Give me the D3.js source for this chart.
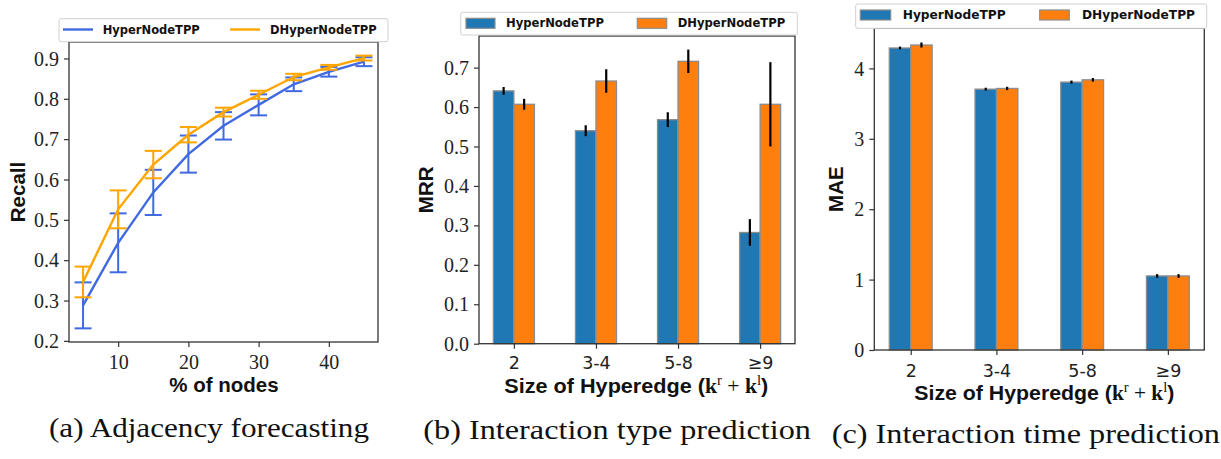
<!DOCTYPE html>
<html>
<head>
<meta charset="utf-8">
<script src="https://cdn.jsdelivr.net/npm/d3@7"></script>
<style>
  body { margin: 0; background: #fff; }
  svg { display: block; }
</style>
</head>
<body>
<div id="chart"></div>
<script>
// series names
let seriesNames = ['HyperNodeTPP', 'DHyperNodeTPP'];

// (a) adjacency forecasting
let pctNodes = [5, 10, 15, 20, 25, 30, 35, 40, 45];
let recallHyper = [0.288, 0.443, 0.568, 0.663, 0.733, 0.785, 0.836, 0.867, 0.892];
let recallHyperErr = [0.057, 0.073, 0.056, 0.046, 0.034, 0.026, 0.017, 0.012, 0.011];
let recallDHyper = [0.346, 0.526, 0.637, 0.711, 0.767, 0.810, 0.854, 0.878, 0.901];
let recallDHyperErr = [0.038, 0.047, 0.034, 0.019, 0.011, 0.010, 0.008, 0.006, 0.006];

// (b) and (c) hyperedge size buckets
let sizeCats = ['2', '3-4', '5-8', '≥9'];
let mrrHyper = [0.641, 0.540, 0.568, 0.282];
let mrrHyperErr = [0.007, 0.011, 0.016, 0.031];
let mrrDHyper = [0.607, 0.666, 0.716, 0.607];
let mrrDHyperErr = [0.011, 0.027, 0.027, 0.104];
let maeHyper = [4.290, 3.705, 3.805, 1.052];
let maeHyperErr = [0.004, 0.005, 0.006, 0.010];
let maeDHyper = [4.332, 3.715, 3.838, 1.052];
let maeDHyperErr = [0.020, 0.008, 0.010, 0.010];

let recallTicks = [0.2, 0.3, 0.4, 0.5, 0.6, 0.7, 0.8, 0.9];
let pctTicks = [10, 20, 30, 40];
let mrrTicks = [0, 0.1, 0.2, 0.3, 0.4, 0.5, 0.6, 0.7];
let maeTicks = [0, 1, 2, 3, 4];
let captions = ['(a) Adjacency forecasting', '(b) Interaction type prediction', '(c) Interaction time prediction'];

let lineColors = ['#4169e1', '#ffa500'];
let barColors = ['#1f77b4', '#ff7f0e'];
let spineColor = '#333';
let serif = '"Liberation Serif", "Times New Roman", serif';
let sansBold = '"Liberation Sans", Arial, sans-serif';
let legendFont = '"DejaVu Sans", sans-serif';

let svg = d3.select('#chart').append('svg')
    .attr('width', 1221)
    .attr('height', 459);

let frame = (g, x0, x1, y0, y1) => {
    g.append('rect')
        .attr('x', x0).attr('y', y0)
        .attr('width', x1 - x0).attr('height', y1 - y0)
        .attr('fill', 'none')
        .attr('stroke', spineColor)
        .attr('stroke-width', 1.3);
};

let styleAxis = (sel, font, size) => {
    sel.select('.domain').remove();
    sel.selectAll('.tick line').attr('stroke', spineColor).attr('stroke-width', 1.2);
    sel.selectAll('.tick text')
        .attr('fill', '#222')
        .style('font-family', font)
        .style('font-size', size + 'px');
};

let yLabel = (x, y, txt) => {
    svg.append('text')
        .attr('transform', `translate(${x},${y}) rotate(-90)`)
        .attr('text-anchor', 'middle')
        .style('font-family', sansBold)
        .style('font-weight', 'bold')
        .style('font-size', '20.5px')
        .attr('fill', '#111')
        .text(txt);
};

let sizeLabel = (x, y, w) => {
    let t = svg.append('text')
        .attr('x', x - w / 2).attr('y', y)
        .attr('textLength', w)
        .attr('lengthAdjust', 'spacingAndGlyphs')
        .attr('fill', '#111')
        .style('font-size', '20.5px');
    t.append('tspan').style('font-family', sansBold).style('font-weight', 'bold').text('Size of Hyperedge (');
    t.append('tspan').style('font-family', serif).style('font-weight', 'bold').text('k');
    t.append('tspan').style('font-family', serif).style('font-size', '14px').attr('dy', -8).text('r');
    t.append('tspan').style('font-family', serif).attr('dy', 8).text(' + ');
    t.append('tspan').style('font-family', serif).style('font-weight', 'bold').text('k');
    t.append('tspan').style('font-family', serif).style('font-size', '14px').attr('dy', -8).text('l');
    t.append('tspan').style('font-family', sansBold).style('font-weight', 'bold').attr('dy', 8).text(')');
};

let legend = (box, items, kind, fontSize) => {
    let g = svg.append('g');
    g.append('rect')
        .attr('x', box.x0).attr('y', box.y0)
        .attr('width', box.x1 - box.x0).attr('height', box.y1 - box.y0)
        .attr('rx', 2)
        .attr('fill', '#fff')
        .attr('stroke', '#d0d0d0')
        .attr('stroke-width', 1);
    items.forEach((it, i) => {
        if (kind === 'line') {
            g.append('line')
                .attr('x1', it.sx0).attr('x2', it.sx1)
                .attr('y1', box.cy).attr('y2', box.cy)
                .attr('stroke', lineColors[i])
                .attr('stroke-width', 2.4);
        } else {
            g.append('rect')
                .attr('x', it.sx0).attr('y', box.cy - 5)
                .attr('width', it.sx1 - it.sx0).attr('height', 10)
                .attr('fill', barColors[i])
                .attr('stroke', '#8c8c8c')
                .attr('stroke-width', 1.2);
        }
        g.append('text')
            .attr('x', it.tx).attr('y', box.cy)
            .attr('dy', '0.36em')
            .style('font-family', legendFont)
            .style('font-weight', 'bold')
            .style('font-size', fontSize + 'px')
            .attr('fill', '#111')
            .text(seriesNames[i]);
    });
};

let padDomain = (lo, hi) => {
    let m = (hi - lo) * 0.05;
    return [lo - m, hi + m];
};

// ---------- (a) line chart with error bars ----------
{
    let L = 69, R = 378, T = 42, B = 342;
    let series = [
        {mean: recallHyper, err: recallHyperErr},
        {mean: recallDHyper, err: recallDHyperErr}
    ];
    let lo = d3.min(series, s => d3.min(s.mean, (m, i) => m - s.err[i]));
    let hi = d3.max(series, s => d3.max(s.mean, (m, i) => m + s.err[i]));
    let x = d3.scaleLinear().domain(padDomain(d3.min(pctNodes), d3.max(pctNodes))).range([L, R]);
    let y = d3.scaleLinear().domain(padDomain(lo, hi)).range([B, T]);

    let g = svg.append('g');
    let line = d3.line().x((d, i) => x(pctNodes[i])).y(d => y(d));
    series.forEach((s, k) => {
        let c = lineColors[k];
        g.append('path')
            .datum(s.mean)
            .attr('d', line)
            .attr('fill', 'none')
            .attr('stroke', c)
            .attr('stroke-width', 2.4);
        let eb = g.append('g').selectAll('g').data(s.mean).join('g');
        eb.append('line')
            .attr('x1', (d, i) => x(pctNodes[i])).attr('x2', (d, i) => x(pctNodes[i]))
            .attr('y1', (d, i) => y(d - s.err[i])).attr('y2', (d, i) => y(d + s.err[i]))
            .attr('stroke', c).attr('stroke-width', 2);
        [-1, 1].forEach(sg => {
            eb.append('line')
                .attr('x1', (d, i) => x(pctNodes[i]) - 8.5).attr('x2', (d, i) => x(pctNodes[i]) + 8.5)
                .attr('y1', (d, i) => y(d + sg * s.err[i])).attr('y2', (d, i) => y(d + sg * s.err[i]))
                .attr('stroke', c).attr('stroke-width', 2);
        });
    });

    let ax = svg.append('g').attr('transform', `translate(0,${B})`)
        .call(d3.axisBottom(x).tickValues(pctTicks).tickSize(5).tickFormat(d3.format('d')));
    styleAxis(ax, serif, 20);
    ax.selectAll('.tick text').attr('dy', null).attr('y', 26.5);

    let ay = svg.append('g').attr('transform', `translate(${L},0)`)
        .call(d3.axisLeft(y).tickValues(recallTicks).tickSize(5).tickPadding(5).tickFormat(d3.format('.1f')));
    styleAxis(ay, serif, 20);
    ay.selectAll('.tick text').attr('dy', '0.33em');

    frame(svg, L, R, T, B);
    yLabel(25, (T + B) / 2, 'Recall');
    svg.append('text')
        .attr('x', 224).attr('y', 391.5)
        .attr('text-anchor', 'middle')
        .style('font-family', sansBold).style('font-weight', 'bold').style('font-size', '20.5px')
        .attr('fill', '#111')
        .text('% of nodes');
    legend({x0: 59, x1: 388, y0: 18.7, y1: 41.7, cy: 29.5},
        [{sx0: 63, sx1: 93, tx: 102.7}, {sx0: 230, sx1: 260, tx: 270}], 'line', 11.5);
}

// ---------- grouped bars for (b) and (c) ----------
let barPanel = ({L, R, T, B, a, aErr, b, bErr, ticks, fmt, tickY, yl, xl, leg, legFont}) => {
    let pairs = [{v: a, e: aErr}, {v: b, e: bErr}];
    let hi = d3.max(pairs, p => d3.max(p.v, (v, i) => v + p.e[i])) * 1.05;
    let x = d3.scaleLinear().domain([-0.425, sizeCats.length - 1 + 0.425]).range([L, R]);
    let y = d3.scaleLinear().domain([0, hi]).range([B, T]);
    let g = svg.append('g');
    pairs.forEach((p, k) => {
        let off = k === 0 ? -0.25 : 0;
        g.append('g').selectAll('rect').data(p.v).join('rect')
            .attr('x', (d, i) => x(i + off))
            .attr('y', d => y(d))
            .attr('width', x(0.25) - x(0))
            .attr('height', d => B - y(d))
            .attr('fill', barColors[k])
            .attr('stroke', '#8c8c8c')
            .attr('stroke-width', 1.3);
    });
    pairs.forEach((p, k) => {
        let off = k === 0 ? -0.125 : 0.125;
        g.append('g').selectAll('line').data(p.v).join('line')
            .attr('x1', (d, i) => x(i + off)).attr('x2', (d, i) => x(i + off))
            .attr('y1', (d, i) => y(d - p.e[i])).attr('y2', (d, i) => y(d + p.e[i]))
            .attr('stroke', '#000')
            .attr('stroke-width', 2.2)
            .attr('stroke-linecap', 'square');
    });

    let ax = svg.append('g').attr('transform', `translate(0,${B})`)
        .call(d3.axisBottom(x).tickValues(d3.range(sizeCats.length)).tickSize(5).tickFormat(i => sizeCats[i]));
    styleAxis(ax, '"DejaVu Sans", sans-serif', 17.5);
    ax.selectAll('.tick text').attr('dy', null).attr('y', tickY);

    let ay = svg.append('g').attr('transform', `translate(${L},0)`)
        .call(d3.axisLeft(y).tickValues(ticks).tickSize(5).tickPadding(5).tickFormat(fmt));
    styleAxis(ay, serif, 20);
    ay.selectAll('.tick text').attr('dy', '0.33em');

    frame(svg, L, R, T, B);
    yLabel(yl.x, (T + B) / 2, yl.text);
    sizeLabel(xl.x, xl.y, xl.w);
    legend(leg.box, leg.items, 'patch', legFont);
};

barPanel({
    L: 479, R: 795, T: 36, B: 343.7,
    a: mrrHyper, aErr: mrrHyperErr, b: mrrDHyper, bErr: mrrDHyperErr,
    ticks: mrrTicks, fmt: d3.format('.1f'), tickY: 25.3,
    yl: {x: 433.3, text: 'MRR'},
    xl: {x: 636.3, y: 393.3, w: 264},
    leg: {box: {x0: 460.7, x1: 797.3, y0: 12.3, y1: 35, cy: 23.3},
          items: [{sx0: 466, sx1: 495, tx: 506}, {sx0: 637.3, sx1: 666.7, tx: 677.7}]},
    legFont: 11.6
});

barPanel({
    L: 874.3, R: 1204.3, T: 28.3, B: 350,
    a: maeHyper, aErr: maeHyperErr, b: maeDHyper, bErr: maeDHyperErr,
    ticks: maeTicks, fmt: d3.format('d'), tickY: 26.7,
    yl: {x: 843, text: 'MAE'},
    xl: {x: 1044.3, y: 400, w: 260},
    leg: {box: {x0: 855.7, x1: 1206.7, y0: 4, y1: 28.3, cy: 15},
          items: [{sx0: 860.3, sx1: 890.7, tx: 902.7}, {sx0: 1039.7, sx1: 1069.3, tx: 1082}]},
    legFont: 12.2
});

// ---------- captions ----------
let capPos = [{x: 49, w: 320, y: 437.3}, {x: 423.3, w: 387.7, y: 439}, {x: 831.7, w: 388.3, y: 443.3}];
captions.forEach((c, i) => {
    svg.append('text')
        .attr('x', capPos[i].x).attr('y', capPos[i].y)
        .attr('textLength', capPos[i].w)
        .attr('lengthAdjust', 'spacingAndGlyphs')
        .style('font-family', serif)
        .style('font-size', '28px')
        .attr('fill', '#111')
        .text(c);
});
</script>
</body>
</html>
